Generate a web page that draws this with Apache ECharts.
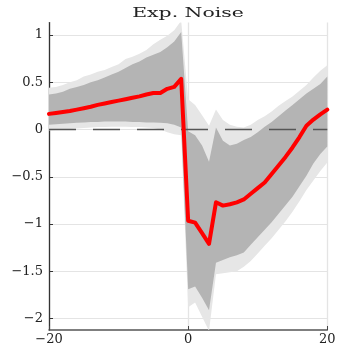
<!DOCTYPE html>
<html>
<head>
<meta charset="utf-8">
<script src="https://cdn.jsdelivr.net/npm/echarts@6/dist/echarts.min.js"></script>
<style>
  html, body { margin: 0; padding: 0; background: #ffffff; }
  #chart { width: 339px; height: 346px; }
</style>
</head>
<body>
<div id="chart"></div>
<script>
// Impulse response to an expectational noise shock, with 68% and 90% bands.
const titleText = 'Exp. Noise';

const horizons = [-20, -19, -18, -17, -16, -15, -14, -13, -12, -11, -10, -9, -8, -7, -6, -5, -4, -3, -2, -1,
                  0, 1, 2, 3, 4, 5, 6, 7, 8, 9, 10, 11, 12, 13, 14, 15, 16, 17, 18, 19, 20];

const response = [0.165, 0.175, 0.185, 0.195, 0.21, 0.225, 0.24, 0.26, 0.275, 0.29,
                  0.305, 0.32, 0.335, 0.35, 0.37, 0.385, 0.385, 0.43, 0.45, 0.535,
                  -0.965, -0.985, -1.095, -1.21, -0.77, -0.805, -0.79, -0.77, -0.74, -0.68,
                  -0.62, -0.56, -0.47, -0.38, -0.29, -0.19, -0.08, 0.04, 0.105, 0.16, 0.21];

// inner (68%) band
const innerLow = [0.05, 0.055, 0.06, 0.065, 0.07, 0.075, 0.08, 0.08, 0.085, 0.085,
                  0.085, 0.085, 0.08, 0.08, 0.075, 0.075, 0.07, 0.065, 0.05, 0.02,
                  -1.69, -1.66, -1.78, -1.91, -1.41, -1.38, -1.35, -1.33, -1.30, -1.22,
                  -1.14, -1.06, -0.98, -0.89, -0.80, -0.71, -0.60, -0.49, -0.36, -0.26, -0.18];
const innerHigh = [0.37, 0.38, 0.40, 0.43, 0.45, 0.47, 0.50, 0.52, 0.55, 0.58,
                   0.61, 0.65, 0.69, 0.72, 0.76, 0.79, 0.82, 0.87, 0.93, 1.03,
                   -0.02, -0.06, -0.17, -0.34, 0.02, -0.12, -0.17, -0.15, -0.11, -0.08,
                   -0.03, 0.03, 0.08, 0.14, 0.20, 0.26, 0.32, 0.38, 0.43, 0.48, 0.56];

// outer (90%) band
const outerLow = [-0.01, -0.005, 0.0, 0.005, 0.01, 0.015, 0.02, 0.025, 0.025, 0.03,
                  0.03, 0.03, 0.025, 0.025, 0.02, 0.015, 0.0, -0.03, -0.05, -0.06,
                  -1.88, -1.83, -1.98, -2.13, -1.53, -1.52, -1.51, -1.50, -1.45, -1.39,
                  -1.31, -1.23, -1.15, -1.06, -0.97, -0.87, -0.76, -0.64, -0.54, -0.44, -0.35];
const outerHigh = [0.44, 0.45, 0.47, 0.50, 0.52, 0.56, 0.58, 0.61, 0.63, 0.66,
                   0.69, 0.745, 0.77, 0.80, 0.84, 0.90, 0.95, 0.99, 1.05, 1.15,
                   0.32, 0.26, 0.15, 0.04, 0.21, 0.10, 0.05, 0.03, 0.02, 0.05,
                   0.10, 0.14, 0.19, 0.25, 0.30, 0.35, 0.41, 0.47, 0.55, 0.62, 0.68];

const xTicks = [-20, 0, 20];
const yTicks = [-2, -1.5, -1, -0.5, 0, 0.5, 1];
const yMin = -2.12, yMax = 1.13;

const pairs = arr => horizons.map((h, i) => [h, arr[i]]);
const triples = (lo, hi) => horizons.map((h, i) => [h, lo[i], hi[i]]);
const fmt = v => String(v).replace('-', '\u2212');

const labelFont = { fontFamily: 'DejaVu Serif', fontSize: 13, color: '#222' };

// One filled polygon per band: upper edge left-to-right, lower edge back.
function bandSeries(lo, hi, color) {
  return {
    type: 'custom',
    data: triples(lo, hi),
    encode: { x: 0, y: [1, 2] },
    clip: true,
    silent: true,
    z: 2,
    renderItem(params, api) {
      if (params.dataIndex !== 0) return null;
      const n = params.dataInsideLength;
      const upper = [], lower = [];
      for (let i = 0; i < n; i++) {
        upper.push(api.coord([api.value(0, i), api.value(2, i)]));
        lower.push(api.coord([api.value(0, i), api.value(1, i)]));
      }
      return {
        type: 'polygon',
        shape: { points: upper.concat(lower.reverse()) },
        style: { fill: color, stroke: null }
      };
    }
  };
}

const chart = echarts.init(document.getElementById('chart'), null, { renderer: 'canvas' });
chart.setOption({
  animation: false,
  backgroundColor: '#ffffff',
  graphic: [{
    type: 'text', x: 188, y: 14, scaleX: 1.7, z: 10,
    style: {
      text: titleText, align: 'center', verticalAlign: 'middle',
      font: '12px "DejaVu Serif"', fill: '#222'
    }
  }],
  grid: { left: 49, right: 11.7, top: 22.6, bottom: 14.6, containLabel: false },
  xAxis: {
    type: 'value', min: -20, max: 20, interval: 20,
    axisLine: { show: true, onZero: false, lineStyle: { color: '#555', width: 1.5 } },
    axisTick: { show: true, inside: true, length: 4, customValues: xTicks, lineStyle: { color: '#444' } },
    axisLabel: Object.assign({ margin: 3, customValues: xTicks, formatter: fmt }, labelFont),
    splitLine: { show: true, lineStyle: { color: '#e4e4e4', width: 1.3 } }
  },
  yAxis: {
    type: 'value', min: yMin, max: yMax,
    axisLine: { show: true, onZero: false, lineStyle: { color: '#333', width: 1.3 } },
    axisTick: { show: true, inside: true, length: 4, customValues: yTicks, lineStyle: { color: '#333' } },
    axisLabel: Object.assign({ margin: 6, customValues: yTicks, formatter: fmt }, labelFont),
    splitLine: { show: true, lineStyle: { color: '#e4e4e4', width: 1 } }
  },
  series: [
    bandSeries(outerLow, outerHigh, '#e6e6e6'),
    bandSeries(innerLow, innerHigh, '#b4b4b4'),
    {
      type: 'line', data: pairs(response), symbol: 'none', z: 4,
      lineStyle: { color: '#ff0000', width: 4, join: 'round', cap: 'round' },
      markLine: {
        silent: true, symbol: 'none', label: { show: false }, z: 3,
        lineStyle: { color: '#555', width: 1.3, type: [27, 17] },
        data: [{ yAxis: 0 }]
      }
    }
  ]
});
</script>
</body>
</html>
